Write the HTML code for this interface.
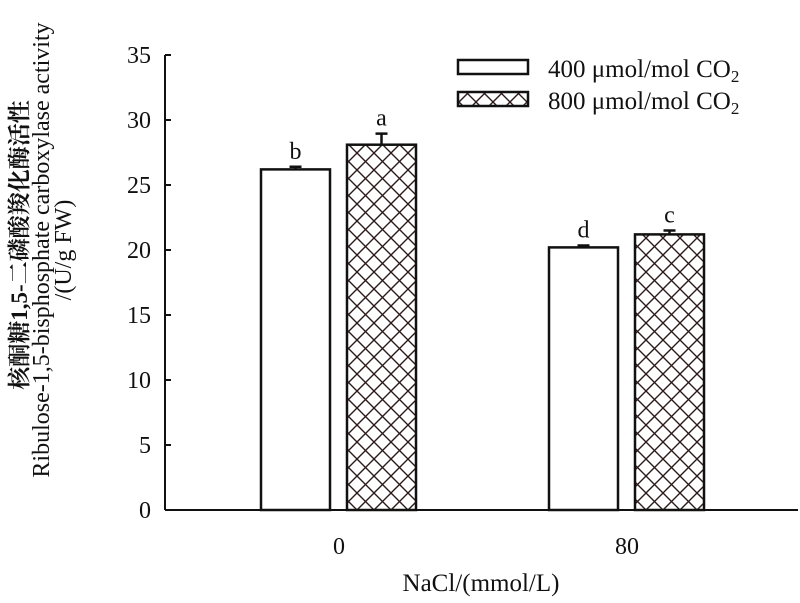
<!DOCTYPE html>
<html><head><meta charset="utf-8"><style>
body{margin:0;background:#fff;}
svg{display:block;font-family:"Liberation Serif","Noto Serif CJK SC",serif;}
</style></head><body>
<svg width="800" height="603" viewBox="0 0 800 603">
<defs>
<pattern id="hatch" width="17" height="17" patternUnits="userSpaceOnUse">
<path d="M0,0 L17,17 M17,0 L0,17" stroke="#2a1a1a" stroke-width="1.4"/>
</pattern>
</defs>
<g id="axes"></g>
<g id="bars"></g>
<g>
<rect x="458" y="60" width="70" height="14" fill="#fff" stroke="#111" stroke-width="2.5"/>
<text x="548" y="77" font-size="25" fill="#111">400 μmol/mol CO<tspan font-size="17" dy="5">2</tspan></text>
<rect x="458" y="92" width="70" height="14" fill="url(#hatch)" stroke="#111" stroke-width="2.5"/>
<text x="548" y="109" font-size="25" fill="#111">800 μmol/mol CO<tspan font-size="17" dy="5">2</tspan></text>
</g>
<g fill="#111" text-anchor="middle">
<text transform="translate(27,245) rotate(-90)" font-size="23" font-weight="bold">核酮糖1,5-二磷酸羧化酶活性</text>
<text transform="translate(49,250) rotate(-90)" font-size="24">Ribulose-1,5-bisphosphate carboxylase activity</text>
<text transform="translate(71,250) rotate(-90)" font-size="24">/(U/g FW)</text>
</g>
<text x="481" y="591" font-size="25" text-anchor="middle" fill="#111">NaCl/(mmol/L)</text>
</svg>
<script>
const categories=["0","80"];
const series400=[26.2,20.2];
const series800=[28.1,21.2];
const err400=[0.2,0.15];
const err800=[0.85,0.3];
const letters400=["b","d"];
const letters800=["a","c"];
const yTicks=[0,5,10,15,20,25,30,35];
const NS="http://www.w3.org/2000/svg";
const x0=165,x1=798,yb=510,yt=55,ymax=35;
const y=v=>yb-(v/ymax)*(yb-yt);
const groupCenter=i=>339+i*288;
function mk(tag,attrs,parent){const e=document.createElementNS(NS,tag);for(const k in attrs)e.setAttribute(k,attrs[k]);parent.appendChild(e);return e;}
const ax=document.getElementById('axes'),bg=document.getElementById('bars');
let l=mk('line',{x1:x0,y1:yt,x2:x0,y2:yb,stroke:'#111','stroke-width':2},ax);


l=mk('line',{x1:x0,y1:yb,x2:x1,y2:yb,stroke:'#111','stroke-width':2},ax);


yTicks.forEach(t=>{
 const tk=mk('line',{x1:x0,y1:y(t),x2:x0+6,y2:y(t),stroke:'#111','stroke-width':2},ax);
 
 
 const tx=mk('text',{x:151,y:y(t)+8,'font-size':24,'text-anchor':'end',fill:'#111'},ax);
 tx.textContent=t;
 
 
});
const bw=69;
categories.forEach((c,i)=>{
 const cx=groupCenter(i);
 const tx=mk('text',{x:cx,y:554,'font-size':24,'text-anchor':'middle',fill:'#111'},ax);
 tx.textContent=c;
 
 
 [[series400,err400,letters400,cx-78,'#fff'],[series800,err800,letters800,cx+8,'url(#hatch)']].forEach(([s,e,L,bx,fill],k)=>{
  const v=s[i];
  const r=mk('rect',{x:bx,y:y(v),width:bw,height:yb-y(v),fill:fill,stroke:'#111','stroke-width':2.5},bg);
  
  
  const mx=bx+bw/2;
  const eb=mk('path',{d:`M${mx},${y(v)} V${y(v+e[i])} M${mx-6},${y(v+e[i])} H${mx+6}`,stroke:'#111','stroke-width':2.5,fill:'none'},bg);
  
  
  const lt=mk('text',{x:mx,y:y(v+e[i])-8,'font-size':24,'text-anchor':'middle',fill:'#111'},bg);
  lt.textContent=L[i];
  
  
 });
});
</script>
</body></html>
